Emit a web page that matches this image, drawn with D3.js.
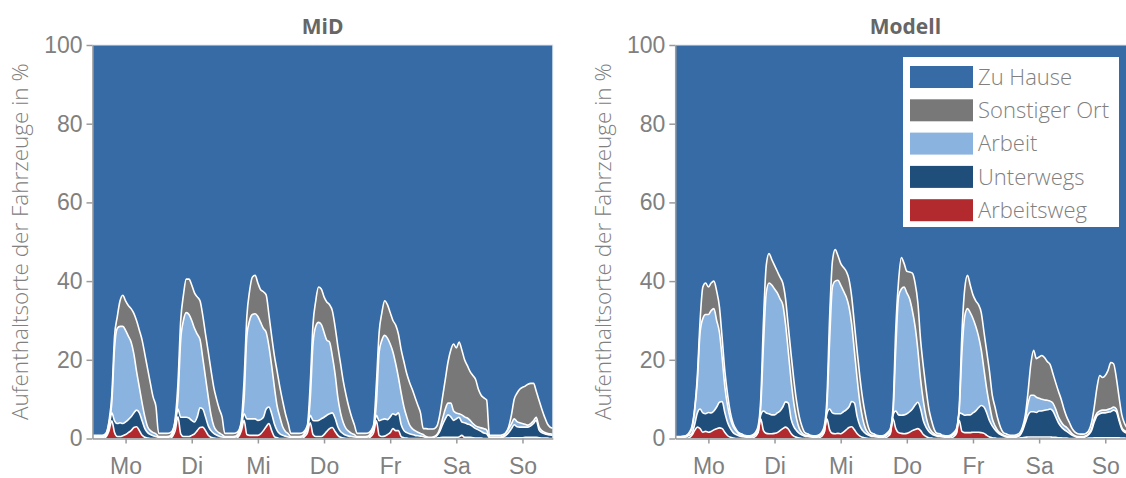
<!DOCTYPE html>
<html>
<head>
<meta charset="utf-8">
<style>
  body { margin: 0; background: #fff; }
  svg { display: block; font-family: "Open Sans", "Noto Sans", sans-serif; }
</style>
</head>
<body>
<svg width="1126" height="478"></svg>
<script src="https://cdn.jsdelivr.net/npm/d3@7/dist/d3.min.js"></script>
<script>
/* Aufenthaltsorte der Fahrzeuge, MiD gegen Modell, stuendlich Mo 0 Uhr bis So 23 Uhr */

var tage = ["Mo", "Di", "Mi", "Do", "Fr", "Sa", "So"];
var yTicks = [0, 20, 40, 60, 80, 100];
var kategorien = ["Arbeitsweg", "Unterwegs", "Arbeit", "Sonstiger Ort", "Zu Hause"];
var legende = ["Zu Hause", "Sonstiger Ort", "Arbeit", "Unterwegs", "Arbeitsweg"];

/* Obergrenzen der gestapelten Flaechen in %, je Tag 24 Stunden.
   "Zu Hause" ist der Rest bis 100. */
var midArbeitsweg = [].concat(
  [0,0,0,0,0,0.5,2,4.5,1.5,0.5,0.5,0.7,1,1.5,2,2.8,3,2,0.8,0.3,0.1,0,0,0],
  [0,0,0,0,0,0.5,2,5.5,1.2,0.5,0.5,0.5,0.8,1.2,2,2.8,2.9,2,0.8,0.3,0.1,0,0,0],
  [0,0,0,0,0,0.5,2,4.6,1,0.8,0.8,0.8,0.8,1.2,2,3,3.8,2,0.5,0.2,0,0,0,0],
  [0,0,0,0,0,0.5,1.5,4,1,0.5,0.5,0.5,1,1.8,2.5,2.8,1.8,0.8,0.3,0.1,0,0,0,0],
  [0,0,0,0,0,0.5,1.5,4.5,0.8,0.5,0.6,1,1.5,2.5,2,2,0.5,0.2,0.1,0,0,0,0,0],
  [0,0,0,0,0,0.1,0.2,0.3,0.3,0.3,0.3,0.3,0.3,0.4,0.8,0.3,0.3,0.3,0.2,0.1,0.1,0.1,0,0],
  [0,0,0,0,0,0,0.1,0.1,0.2,0.2,0.2,0.2,0.2,0.3,0.3,0.3,0.3,0.3,0.2,0.1,0.1,0.1,0,0]
);
var midUnterwegs = [].concat(
  [0.3,0.3,0.3,0.3,0.3,0.8,3,6.5,4.5,3.8,4,3.8,4.2,4.8,5.5,6.5,7.2,6.5,4.5,2.5,1.5,1,0.7,0.5],
  [0.3,0.3,0.3,0.3,0.4,1,3.5,7.5,5.4,5.4,5.4,5.2,4.6,4.2,5.5,7.8,7.5,5.5,3.2,2,1.3,0.9,0.6,0.4],
  [0.3,0.3,0.3,0.3,0.4,1,3,6.3,5,5,5,5,4.6,4.8,5.4,7.5,8,6.3,3.7,2,1.2,0.8,0.6,0.4],
  [0.3,0.3,0.3,0.3,0.4,1,2.5,5.9,4.6,4.5,4.6,5,5.4,5.9,6.3,6.5,5.2,3,1.8,1.2,0.8,0.6,0.5,0.4],
  [0.3,0.3,0.3,0.3,0.4,1,2.5,5.9,4.5,4.8,5,4.8,5.5,6.3,6,6.5,3.5,2,1.5,1.2,1,0.8,0.7,0.6],
  [0.5,0.2,0.1,0.1,0.3,0.8,1.8,3.5,5,6,5.5,4.6,5,5.4,4.2,4,3.7,3.5,3,2.5,2.2,1.8,1.4,1.2],
  [0.2,0.2,0.2,0.2,0.2,0.3,0.8,1.5,2.5,3.5,3,2.9,2.9,2.9,2.9,3.2,3.8,4.6,2.2,1.5,1.2,1,0.9,0.8]
);
var midArbeit = [].concat(
  [0.5,0.5,0.5,0.5,0.6,1.2,4,9,23,28,28.5,28.5,27.5,26,24.5,21.5,17,13,9,5.5,3,2,1.5,1.2],
  [0.5,0.5,0.5,0.5,0.6,1.5,4.5,10,25,30,32,31.5,30,28,26.5,25.2,20.5,15.5,10.5,6,3.2,2,1.4,1],
  [0.5,0.5,0.5,0.5,0.6,1.5,4,10,26,30,31.5,31.7,31,29.5,28,27,23.5,18.5,13,8.2,5.4,3,1.8,1.2],
  [0.5,0.5,0.5,0.5,0.6,1.5,3,10,24,28.5,29.5,29,27,25,24.5,21,16.5,10.5,6.5,4,2.5,1.8,1.3,1],
  [0.5,0.5,0.5,0.5,0.6,1.5,3,9,22,25,26.2,25.5,24,22,19,15.5,11.5,8,5.5,3.5,2.5,2,1.6,1.3],
  [1,0.5,0.3,0.3,0.5,1,2.5,5,7.5,9,9,7,6.5,6.3,6,5.5,5.2,4.6,3.8,3.2,2.9,2.7,2.5,2.2],
  [0.4,0.4,0.4,0.4,0.4,0.6,1.5,2.5,3.7,5,4.3,4,3.8,3.6,3.4,3.8,4.5,5.4,3,2,1.6,1.3,1.2,1.1]
);
var midSonstiges = [].concat(
  [0.8,0.8,0.8,0.8,0.9,1.5,4.5,11,26,31,35,36.4,35,33.8,33,31.8,29.9,27.5,25,21.4,17.7,14,10.5,8.2],
  [1.3,1.3,1.3,1.3,1.4,2,5,14,30,36.5,40.5,40.5,39,37,36,35,31.3,26.5,22,17.3,13,10,7.5,5.5],
  [1.3,1.3,1.3,1.3,1.4,2,4.5,15,31,37.5,41,41.5,39.5,37.8,37.3,36.5,31.5,26,21,17,13,9.5,6.3,3.8],
  [1.3,1.3,1.3,1.3,1.4,2,3.5,14,29,35,38.5,38,36,34.7,34,32.5,28.5,23.5,19,14.5,11,8,5.5,3.5],
  [1.3,1.3,1.3,1.3,1.4,2,3.5,14,27,32,35,34,32,30,28.8,26.5,22.5,19.5,16.5,14.3,12.5,10.5,8.5,6.5],
  [2.5,2.5,2.4,2.4,2.5,3.2,6,10.5,15,19.5,22.5,24,23,24.5,22.5,20,18.5,17,16,15,12.5,11,10.3,9.8],
  [0.8,0.8,0.8,0.8,0.8,1,1.5,3,6,10,11.5,12.5,13,13.3,13.8,14,14,12,9.7,7.5,5.5,3.8,2.9,2.6]
);

var modArbeitsweg = [].concat(
  [0,0,0,0,0,0.2,0.8,2,2.9,2.5,1.6,1.8,1.6,1.8,2.2,2.5,2.7,2.5,1.5,0.7,0.3,0.1,0,0],
  [0,0,0,0,0.1,0.5,1.5,5,2,1.3,1.2,1.2,1.3,1.5,2,2.5,2.9,2.4,1.3,0.6,0.3,0.1,0,0],
  [0,0,0,0,0.1,0.5,1.5,5,2.2,1.3,1.2,1.3,1.2,1.6,2.2,2.8,3,2.2,1.2,0.6,0.3,0.1,0,0],
  [0,0,0,0,0.1,0.5,1.2,5,2.5,1.5,1.3,1.2,1.3,1.6,2,2.3,2.5,2,1,0.5,0.2,0.1,0,0],
  [0,0,0,0,0.1,0.5,1.3,4.6,1.8,1.5,1.5,1.5,1.6,1.6,1.6,1.5,1.3,0.8,0.4,0.2,0.1,0,0,0],
  [0,0,0,0,0,0.1,0.2,0.3,0.4,0.4,0.4,0.4,0.4,0.4,0.4,0.4,0.4,0.3,0.3,0.2,0.2,0.1,0.1,0],
  [0,0,0,0,0,0,0.1,0.1,0.2,0.2,0.2,0.2,0.2,0.2,0.2,0.2,0.2,0.2,0.1,0.1,0,0,0,0]
);
var modUnterwegs = [].concat(
  [0.3,0.3,0.3,0.3,0.4,0.8,1.2,3.5,6.5,7.5,6.5,6.3,6.6,6.5,7,8,9.2,9.4,6.5,4,2.5,1.5,1,0.7],
  [0.5,0.4,0.3,0.3,0.5,1,1.5,6,7,6.5,6.3,6,6,6.5,7,8,9.3,9,5,3,2,1.3,0.9,0.6],
  [0.5,0.4,0.3,0.3,0.5,1,1.5,6.3,7.5,6.5,6.3,6.3,6.3,6.8,7.3,8,9.4,9,5.5,3.2,2,1.3,0.9,0.6],
  [0.5,0.4,0.3,0.3,0.5,1,1.5,6,7,6,5.9,6,6.3,6.8,7.5,8.5,9.2,7.5,4.5,2.8,1.8,1.2,0.8,0.6],
  [0.5,0.4,0.3,0.3,0.5,1,1.5,6.5,6.3,5.9,6,6,6.5,7,7.8,8.4,8,6.5,4.5,3.2,2.2,1.5,1,0.7],
  [0.4,0.3,0.3,0.3,0.4,0.8,2,4,6,6.8,6.8,6.6,7,7,7.2,7.3,7.5,7,5.5,4,3,2.3,1.8,1.3],
  [0.8,0.5,0.3,0.3,0.3,0.5,1,2,4.2,5.8,6.3,6.5,6.5,6.7,6.8,7.2,6.8,4.5,2.4,1.6,1.3,1,0.8,0.6]
);
var modArbeit = [].concat(
  [0.4,0.4,0.4,0.5,0.7,1.3,2.5,7,14.5,27,30.5,31.5,31.5,32.5,33,30,27,20.5,13,8.2,5,3,2,1.2],
  [0.8,0.6,0.5,0.5,0.7,1.3,2.5,8,24,37,39.5,39,38,37,35.5,34,29,22,14.8,9,5,2.5,1.4,0.9],
  [0.8,0.6,0.5,0.5,0.7,1.3,2.5,8,25,38.5,40,40.2,39,37.5,36,33.5,29,22,15,9,5,2.5,1.4,0.9],
  [0.8,0.6,0.5,0.5,0.7,1.3,2.2,6.5,23,36,38,38.5,37,35.5,32.5,28.5,22.5,15,9.5,5.5,3,1.8,1.2,0.8],
  [0.8,0.6,0.5,0.5,0.7,1.3,2.2,7,22,31,33,32,30.5,28.5,26,22.5,17.5,12.5,8.5,5,3.2,2,1.3,0.9],
  [0.6,0.5,0.5,0.5,0.6,1,2.5,5,9,11,11,10.5,10.2,10,9.8,9.7,9.5,9,7.5,5.5,4.2,3.3,2.8,2],
  [1.2,0.7,0.5,0.5,0.5,0.7,1.3,2.5,5,6.5,7,7.2,7.2,7.4,7.6,8,7.5,5,2.8,2,1.7,1.4,1.2,1]
);
var modSonstiges = [].concat(
  [0.5,0.5,0.5,0.6,0.8,1.5,3,7.5,16,30,38.5,39.5,38.5,39.5,40,37.5,33.5,25.5,17,11,6.5,3.8,2.4,1.5],
  [1.2,0.8,0.7,0.7,0.9,1.5,3,10,30,44,47,45.5,44,42.5,41,39.5,35.5,28.5,21.5,15,9.5,5.5,3,1.5],
  [1.2,0.8,0.7,0.7,0.9,1.5,3,10,31,45,48,46.5,44.5,43.5,42.5,40.5,36,29,22,15.5,10,6,3,1.5],
  [1.2,0.8,0.7,0.7,0.9,1.5,2.5,8,28,40,46,44.5,42.5,42.3,42,39.5,34.5,25,18.3,12.5,7.5,4.5,2.2,1.3],
  [1.2,0.8,0.7,0.7,0.9,1.5,2.5,8,27,38,41.5,39,36.5,35,34,32,27,22,17,11,8,5,2.8,1.5],
  [1.2,0.9,0.8,0.8,1,1.5,3,6,12,19,22.4,20.3,20.7,21.1,20.5,19.5,18.8,16.5,14.2,12,10,7.5,5.5,4],
  [2.5,1.6,1.2,1.1,1.1,1.3,2,4,8,13,16,15.5,16,17.3,19.3,19,15.5,10.5,6,3.8,2.6,2,1.6,1.3]
);

var farben = {
  "Zu Hause": "#376ba5",
  "Sonstiger Ort": "#787878",
  "Arbeit": "#8bb3df",
  "Unterwegs": "#1f4e7a",
  "Arbeitsweg": "#b22a2e"
};
var textFarbe = "#808080";

var svg = d3.select("svg");
var oben = 45, unten = 438.5, breite = 460.3;

zeichnePanel("MiD", 92.5, 20, [midArbeitsweg, midUnterwegs, midArbeit, midSonstiges]);
zeichnePanel("Modell", 675.3, 603, [modArbeitsweg, modUnterwegs, modArbeit, modSonstiges]);
zeichneLegende();

function zeichnePanel(titel, links, labelX, grenzen) {
  var x = d3.scaleLinear().domain([0, 167]).range([links, links + breite]);
  var y = d3.scaleLinear().domain([0, 100]).range([unten, oben]);
  var g = svg.append("g");

  /* Flaechen, von unten nach oben */
  kategorien.forEach(function(kat, k) {
    var flaeche = d3.area()
      .x(function(d, i) { return x(i); })
      .y0(function(d, i) { return y(k === 0 ? 0 : grenzen[k - 1][i]); })
      .y1(function(d, i) { return y(k === 4 ? 100 : grenzen[k][i]); })
      .curve(d3.curveMonotoneX);
    g.append("path")
      .datum(grenzen[0])
      .attr("fill", farben[kat])
      .attr("d", flaeche);
  });

  /* weisse Trennlinien */
  var linie = d3.line()
    .x(function(d, i) { return x(i); })
    .y(function(d) { return y(d); })
    .curve(d3.curveMonotoneX);
  grenzen.forEach(function(reihe) {
    g.append("path")
      .datum(reihe)
      .attr("fill", "none")
      .attr("stroke", "#fff")
      .attr("stroke-width", 1.6)
      .attr("stroke-linejoin", "round")
      .attr("d", linie);
  });

  g.append("rect")
    .attr("x", links).attr("y", oben)
    .attr("width", breite).attr("height", unten - oben)
    .attr("fill", "none").attr("stroke", "#dfe7f0").attr("stroke-width", 1);

  /* Achsen */
  var yAchse = g.append("g")
    .attr("transform", "translate(" + links + ",0)")
    .call(d3.axisLeft(y).tickValues(yTicks).tickSize(6).tickSizeOuter(0).tickPadding(4));

  var xAchse = g.append("g")
    .attr("transform", "translate(0," + unten + ")")
    .call(d3.axisBottom(x)
      .tickValues(tage.map(function(t, i) { return i * 24 + 12; }))
      .tickFormat(function(d, i) { return tage[i]; })
      .tickSize(5).tickSizeOuter(0).tickPadding(14));

  [yAchse, xAchse].forEach(function(a) {
    a.selectAll("path, line").attr("stroke", "#9a9a9a").attr("stroke-width", 1.5);
    a.selectAll("text")
      .attr("fill", textFarbe)
      .style("font-size", "23px")
      .style("font-weight", 300);
  });

  g.append("text")
    .attr("x", links + breite / 2)
    .attr("y", 27)
    .attr("dy", "0.35em")
    .attr("text-anchor", "middle")
    .attr("fill", "#666")
    .style("font-size", "21px")
    .style("font-weight", 700)
    .text(titel);

  g.append("text")
    .attr("transform", "translate(" + labelX + "," + ((oben + unten) / 2) + ") rotate(-90)")
    .attr("dy", "0.35em")
    .attr("text-anchor", "middle")
    .attr("fill", textFarbe)
    .style("font-size", "22.5px")
    .style("font-weight", 300)
    .text("Aufenthaltsorte der Fahrzeuge in %");
}

function zeichneLegende() {
  var lg = svg.append("g");
  lg.append("rect")
    .attr("x", 903).attr("y", 57)
    .attr("width", 216).attr("height", 170)
    .attr("fill", "#fff");

  var zeile = lg.selectAll("g.eintrag")
    .data(legende)
    .enter().append("g")
    .attr("class", "eintrag")
    .attr("transform", function(d, i) { return "translate(910," + (77 + i * 33.3) + ")"; });

  zeile.append("rect")
    .attr("x", 0).attr("y", -11)
    .attr("width", 63).attr("height", 22)
    .attr("fill", function(d) { return farben[d]; });

  zeile.append("text")
    .attr("x", 68)
    .attr("dy", "0.35em")
    .attr("fill", textFarbe)
    .style("font-size", "22px")
    .style("font-weight", 300)
    .text(function(d) { return d; });
}
</script>
</body>
</html>
